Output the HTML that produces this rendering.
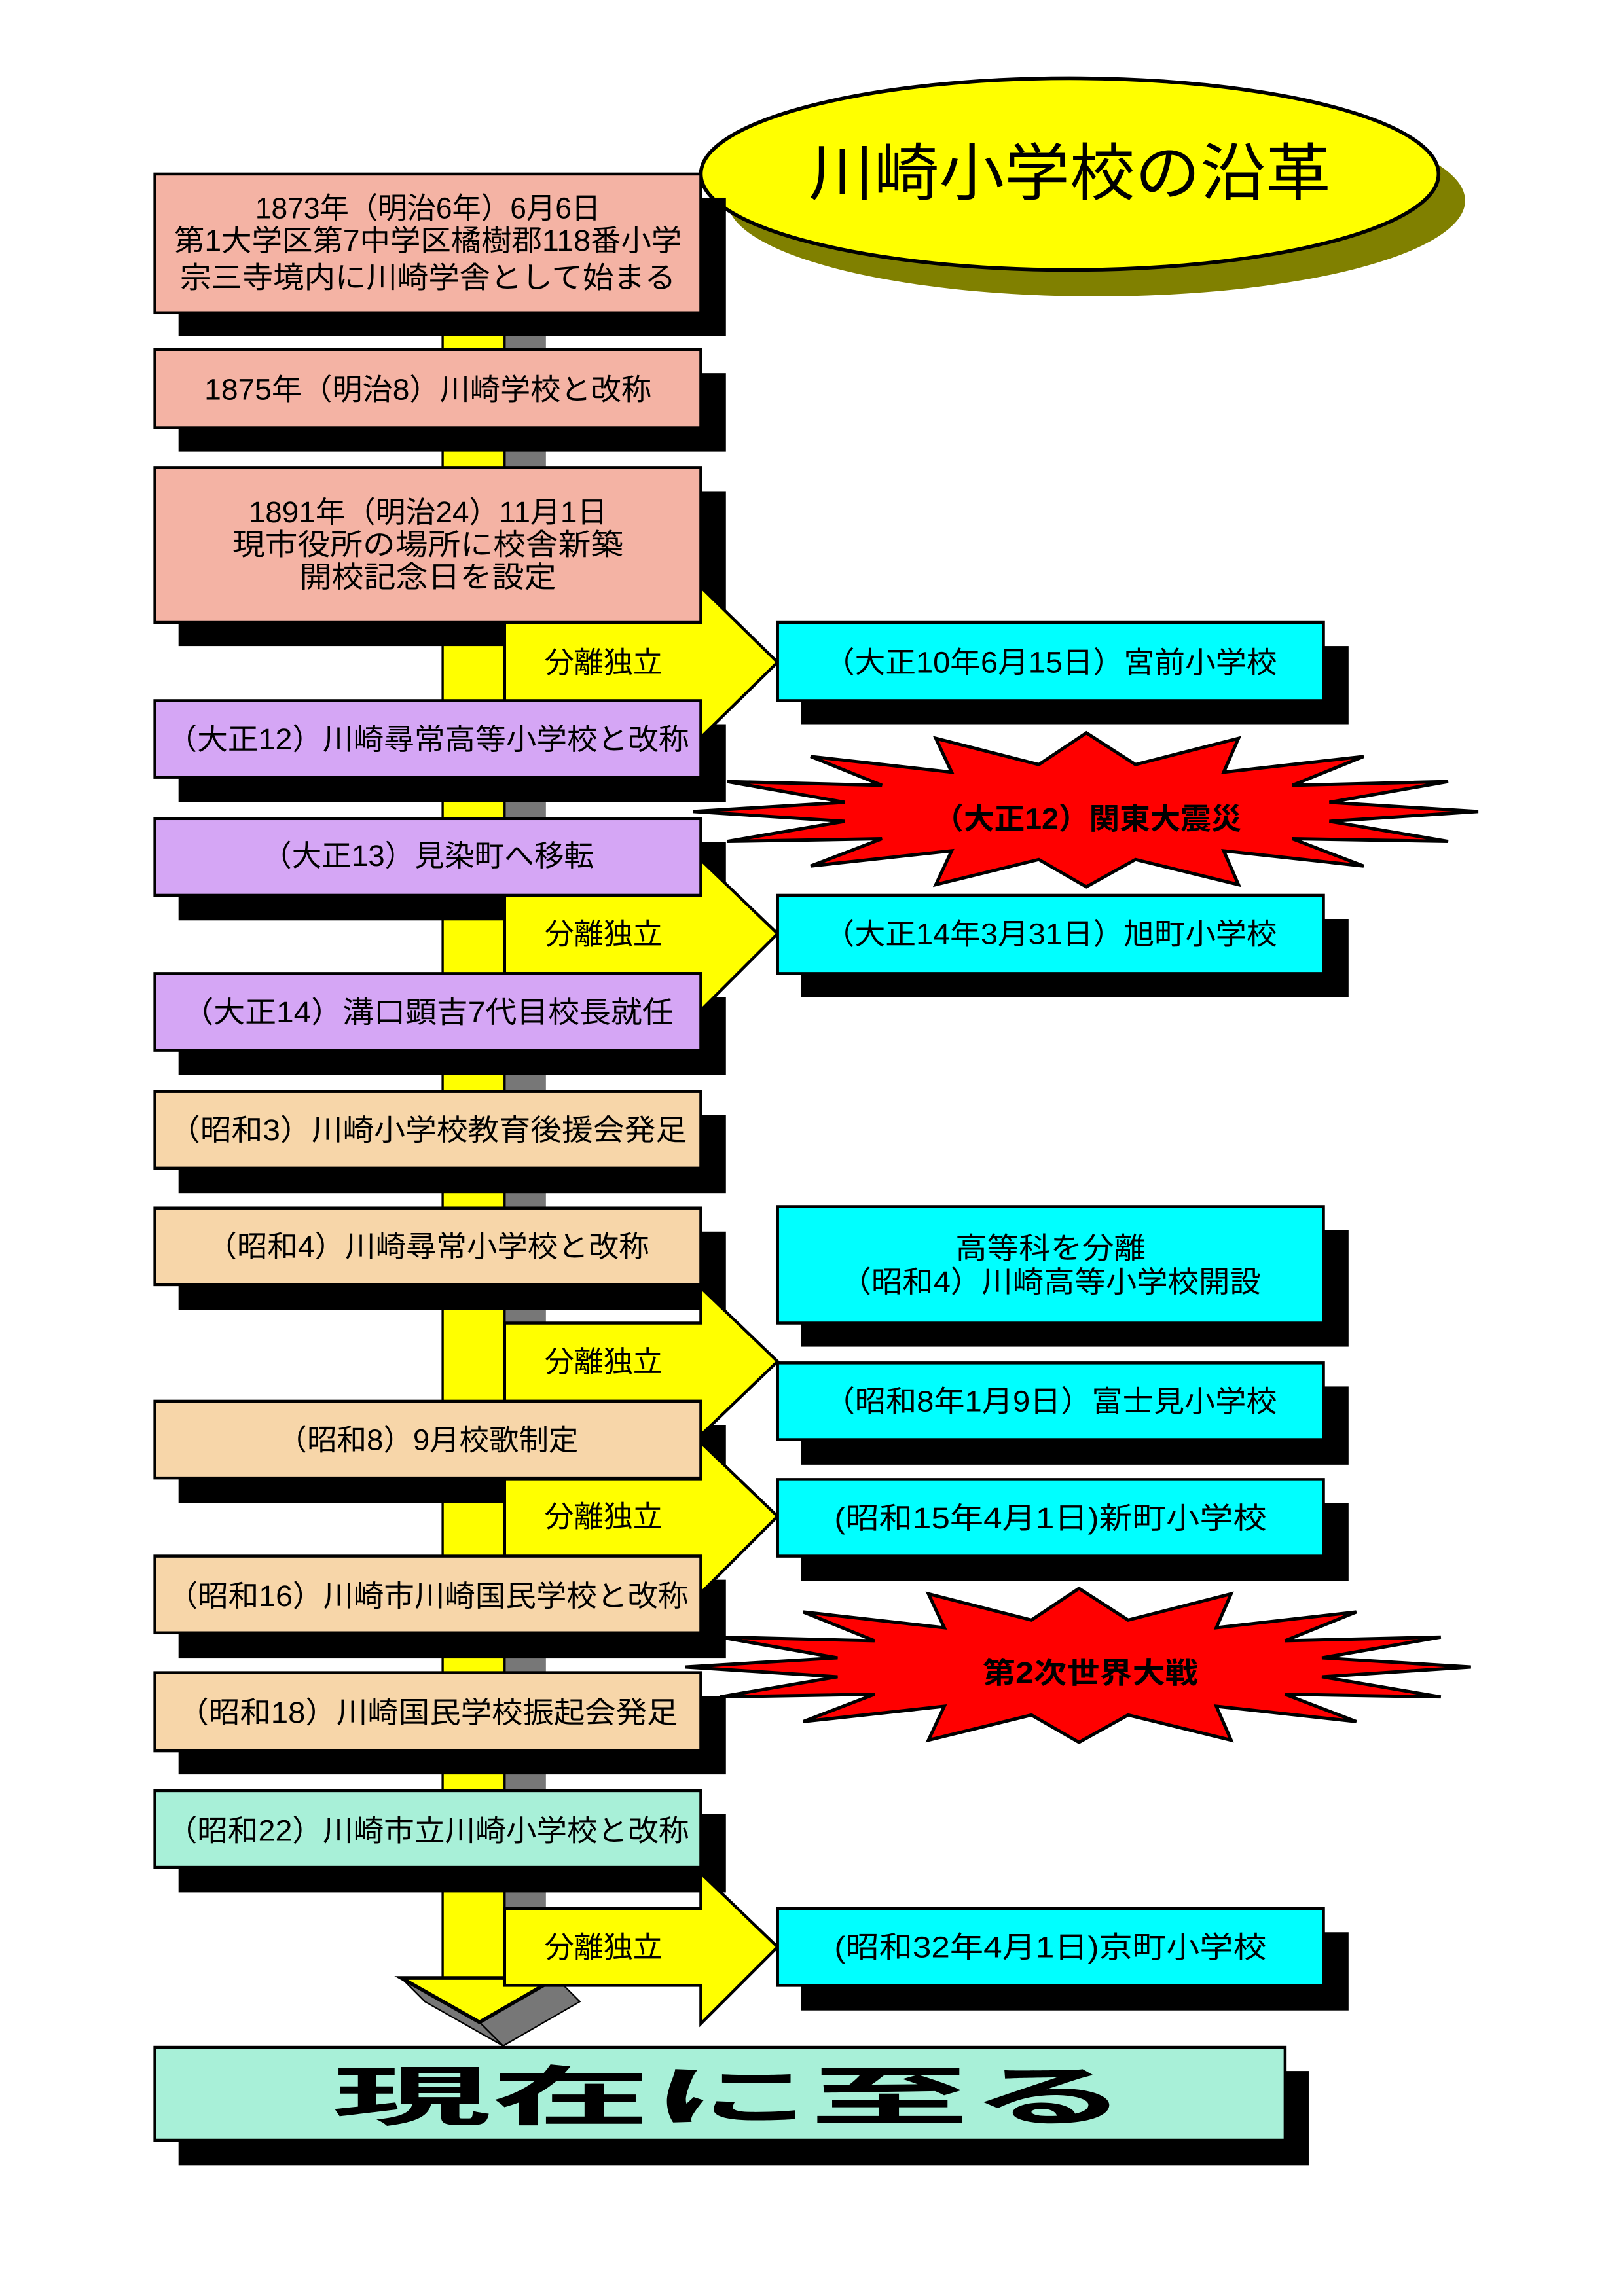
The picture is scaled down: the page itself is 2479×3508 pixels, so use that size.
<!DOCTYPE html>
<html><head><meta charset="utf-8"><style>
html,body{margin:0;padding:0;background:#fff}
svg{display:block}
text{font-family:"Liberation Sans","Noto Sans CJK JP",sans-serif;fill:#000}
</style></head><body>
<svg width="2479" height="3508" viewBox="0 0 1100 1556.6" xmlns="http://www.w3.org/2000/svg">
<defs>
<polygon id="star" points="755,60 848,205 1043,85 1015,240 1280,168 1145,300 1440,283 1215,378 1497,420 1215,465 1440,557 1145,545 1280,670 1015,600 1043,755 848,640 755,765 665,640 470,755 500,600 233,670 368,545 75,557 298,465 10,420 298,378 75,283 368,300 233,168 500,240 470,85 665,205" fill="#ff0000" stroke="#000" stroke-width="5" vector-effect="non-scaling-stroke"/>
</defs>
<rect width="1100" height="1556.6" fill="#fff"/>

<!-- title ellipse -->
<ellipse cx="743" cy="136" rx="250" ry="65" fill="#808000"/>
<ellipse cx="725" cy="118" rx="250" ry="65" fill="#ffff00" stroke="#000" stroke-width="2.5"/>
<text x="725" y="132" font-size="42" text-anchor="middle" textLength="354" lengthAdjust="spacingAndGlyphs">川崎小学校の沿革</text>

<!-- spine -->
<rect x="342" y="212" width="28" height="1130" fill="#777"/>
<rect x="300" y="212" width="42" height="1130" fill="#ffff00" stroke="#000" stroke-width="1.5"/>
<!-- down arrow head -->
<polygon points="272,1341 288,1357 341,1387 325,1371" fill="#777" stroke="#000" stroke-width="1"/>
<polygon points="377,1341 393,1357 341,1387 325,1371" fill="#777" stroke="#000" stroke-width="1"/>
<polygon points="272,1341 377,1341 325,1371" fill="#ffff00" stroke="#000" stroke-width="2.5"/>

<!-- stars -->
<g transform="translate(466 488) scale(0.358 0.148)"><use href="#star"/></g>
<g transform="translate(461 1068) scale(0.358 0.148)"><use href="#star"/></g>
<text x="737" y="562" font-size="20" font-weight="bold" text-anchor="middle" textLength="209" lengthAdjust="spacingAndGlyphs">（大正12）関東大震災</text>
<text x="739" y="1141" font-size="20" font-weight="bold" text-anchor="middle" textLength="146" lengthAdjust="spacingAndGlyphs">第2次世界大戦</text>

<!-- shadows -->
<g fill="#000">
<rect x="121" y="134" width="371" height="94"/>
<rect x="121" y="253" width="371" height="53"/>
<rect x="121" y="333" width="371" height="105"/>
<rect x="121" y="491" width="371" height="53"/>
<rect x="121" y="571" width="371" height="53"/>
<rect x="121" y="676" width="371" height="53"/>
<rect x="121" y="756" width="371" height="53"/>
<rect x="121" y="835" width="371" height="53"/>
<rect x="121" y="966" width="371" height="53"/>
<rect x="121" y="1071" width="371" height="53"/>
<rect x="121" y="1150" width="371" height="53"/>
<rect x="121" y="1230" width="371" height="53"/>
<rect x="543" y="438" width="371" height="53"/>
<rect x="543" y="623" width="371" height="53"/>
<rect x="543" y="834" width="371" height="79"/>
<rect x="543" y="940" width="371" height="53"/>
<rect x="543" y="1019" width="371" height="53"/>
<rect x="543" y="1310" width="371" height="53"/>
<rect x="121" y="1404" width="766" height="64"/>
</g>

<!-- right arrows -->
<g fill="#ffff00" stroke="#000" stroke-width="2">
<polygon points="342,420 475,420 475,398 527,449 475,500 475,477 342,477"/>
<polygon points="342,607 475,607 475,583 527,633 475,685 475,660 342,660"/>
<polygon points="342,897 475,897 475,873 527,923 475,973 475,950 342,950"/>
<polygon points="342,1003 475,1003 475,978 527,1028 475,1080 475,1055 342,1055"/>
<polygon points="342,1294 475,1294 475,1270 527,1320 475,1372 475,1346 342,1346"/>
</g>

<g stroke="#000" stroke-width="2">
<rect x="105" y="118" width="370" height="94" fill="#f4b3a4"/>
<rect x="105" y="237" width="370" height="53" fill="#f4b3a4"/>
<rect x="105" y="317" width="370" height="105" fill="#f4b3a4"/>
<rect x="105" y="475" width="370" height="52" fill="#d5a6f5"/>
<rect x="105" y="555" width="370" height="52" fill="#d5a6f5"/>
<rect x="105" y="660" width="370" height="52" fill="#d5a6f5"/>
<rect x="105" y="740" width="370" height="52" fill="#f7d6a9"/>
<rect x="105" y="819" width="370" height="52" fill="#f7d6a9"/>
<rect x="105" y="950" width="370" height="52" fill="#f7d6a9"/>
<rect x="105" y="1055" width="370" height="52" fill="#f7d6a9"/>
<rect x="105" y="1134" width="370" height="53" fill="#f7d6a9"/>
<rect x="105" y="1214" width="370" height="52" fill="#a8f0d8"/>
<rect x="527" y="422" width="370" height="53" fill="#00ffff"/>
<rect x="527" y="607" width="370" height="53" fill="#00ffff"/>
<rect x="527" y="818" width="370" height="79" fill="#00ffff"/>
<rect x="527" y="924" width="370" height="52" fill="#00ffff"/>
<rect x="527" y="1003" width="370" height="52" fill="#00ffff"/>
<rect x="527" y="1294" width="370" height="52" fill="#00ffff"/>
<rect x="105" y="1388" width="766" height="63" fill="#a8f0d8"/>
</g>

<g font-size="20" text-anchor="middle">
<text x="409" y="456">分離独立</text>
<text x="409" y="640">分離独立</text>
<text x="409" y="930">分離独立</text>
<text x="409" y="1035">分離独立</text>
<text x="409" y="1327">分離独立</text>
</g>

<g font-size="20" text-anchor="middle">
<text x="290" y="148" textLength="234" lengthAdjust="spacingAndGlyphs">1873年（明治6年）6月6日</text>
<text x="290" y="170" textLength="344" lengthAdjust="spacingAndGlyphs">第1大学区第7中学区橘樹郡118番小学</text>
<text x="290" y="195" textLength="336" lengthAdjust="spacingAndGlyphs">宗三寺境内に川崎学舎として始まる</text>
<text x="290" y="271" textLength="303" lengthAdjust="spacingAndGlyphs">1875年（明治8）川崎学校と改称</text>
<text x="290" y="354" textLength="243" lengthAdjust="spacingAndGlyphs">1891年（明治24）11月1日</text>
<text x="290" y="376" textLength="265" lengthAdjust="spacingAndGlyphs">現市役所の場所に校舎新築</text>
<text x="290" y="398" textLength="174" lengthAdjust="spacingAndGlyphs">開校記念日を設定</text>
<text x="290" y="508" textLength="354" lengthAdjust="spacingAndGlyphs">（大正12）川崎尋常高等小学校と改称</text>
<text x="290" y="587" textLength="225" lengthAdjust="spacingAndGlyphs">（大正13）見染町へ移転</text>
<text x="290" y="693" textLength="333" lengthAdjust="spacingAndGlyphs">（大正14）溝口顕吉7代目校長就任</text>
<text x="290" y="773" textLength="351" lengthAdjust="spacingAndGlyphs">（昭和3）川崎小学校教育後援会発足</text>
<text x="290" y="852" textLength="300" lengthAdjust="spacingAndGlyphs">（昭和4）川崎尋常小学校と改称</text>
<text x="290" y="983" textLength="204" lengthAdjust="spacingAndGlyphs">（昭和8）9月校歌制定</text>
<text x="290" y="1089" textLength="353" lengthAdjust="spacingAndGlyphs">（昭和16）川崎市川崎国民学校と改称</text>
<text x="290" y="1168" textLength="339" lengthAdjust="spacingAndGlyphs">（昭和18）川崎国民学校振起会発足</text>
<text x="290" y="1248" textLength="354" lengthAdjust="spacingAndGlyphs">（昭和22）川崎市立川崎小学校と改称</text>
<text x="712" y="456" textLength="307" lengthAdjust="spacingAndGlyphs">（大正10年6月15日）宮前小学校</text>
<text x="712" y="640" textLength="307" lengthAdjust="spacingAndGlyphs">（大正14年3月31日）旭町小学校</text>
<text x="712" y="853" textLength="129" lengthAdjust="spacingAndGlyphs">高等科を分離</text>
<text x="712" y="876" textLength="285" lengthAdjust="spacingAndGlyphs">（昭和4）川崎高等小学校開設</text>
<text x="712" y="957" textLength="307" lengthAdjust="spacingAndGlyphs">（昭和8年1月9日）富士見小学校</text>
<text x="712" y="1036" textLength="293" lengthAdjust="spacingAndGlyphs">(昭和15年4月1日)新町小学校</text>
<text x="712" y="1327" textLength="293" lengthAdjust="spacingAndGlyphs">(昭和32年4月1日)京町小学校</text>
</g>
<text x="495" y="1437" font-size="44" font-weight="bold" text-anchor="middle" textLength="540" lengthAdjust="spacingAndGlyphs">現在に至る</text>
</svg>
</body></html>
